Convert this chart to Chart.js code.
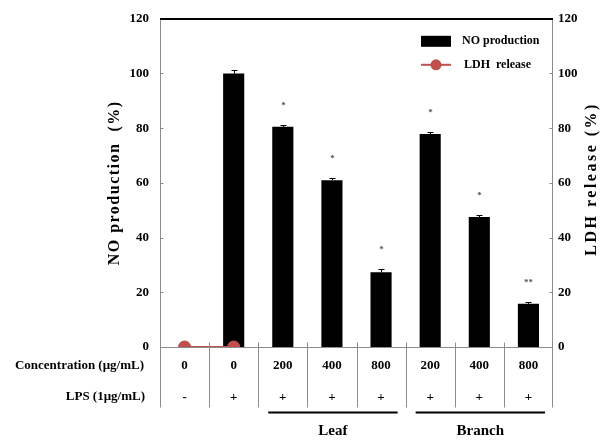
<!DOCTYPE html>
<html lang="en">
<head>
<meta charset="UTF-8">
<title>NO production and LDH release</title>
<script src="https://cdn.jsdelivr.net/npm/chart.js@4.4.0/dist/chart.umd.min.js"></script>
<style>
  body { margin: 0; background: #fff; }
  #wrap { width: 603px; height: 441px; }
</style>
</head>
<body>
<div id="wrap"><canvas id="chart" width="603" height="441"></canvas></div>
<script>
// data
const categories = ['0', '0', '200', '400', '800', '200', '400', '800'];
const lpsLabels = ['-', '+', '+', '+', '+', '+', '+', '+'];
const noProduction = [null, 100, 80.5, 61, 27.3, 77.9, 47.5, 15.8];
const noError = [null, 1.3, 0.8, 0.8, 1.3, 0.8, 0.8, 0.8];
const significance = ['', '', '*', '*', '*', '*', '*', '**'];
const ldhRelease = [0, 0, null, null, null, null, null, null];
const groups = [
    { label: 'Leaf', from: 2, to: 4 },
    { label: 'Branch', from: 5, to: 7 }
];
const yTicks = [0, 20, 40, 60, 80, 100, 120];

const FONT = "'Liberation Serif', 'Times New Roman', serif";
const RED = '#c0504d';
const AXIS = '#8c8c8c';

const overlay = {
    id: 'overlay',
    afterDatasetsDraw(chart) {
        const { ctx, scales: { x, y } } = chart;
        ctx.save();
        ctx.strokeStyle = '#000';
        ctx.lineWidth = 1;
        noProduction.forEach((v, i) => {
            if (v == null) return;
            const cx = Math.round(x.getPixelForValue(i)) + 0.5;
            const top = Math.round(y.getPixelForValue(v + noError[i])) + 0.5;
            ctx.beginPath();
            ctx.moveTo(cx, y.getPixelForValue(v));
            ctx.lineTo(cx, top);
            ctx.moveTo(cx - 3, top);
            ctx.lineTo(cx + 3, top);
            ctx.stroke();
            if (significance[i]) {
                ctx.fillStyle = '#555';
                ctx.font = `bold 9px ${FONT}`;
                ctx.textAlign = 'center';
                ctx.textBaseline = 'middle';
                ctx.fillText(significance[i], cx, top - 20);
            }
        });
        ctx.restore();
    },
    afterDraw(chart) {
        const { ctx, scales: { x, y } } = chart;
        const left = Math.round(x.left) + 0.5;
        const right = Math.round(x.right) - 0.5;
        const top = Math.round(y.top);
        const bottom = Math.round(y.bottom) + 0.5;
        const tableBottom = bottom + 60;
        const half = (x.getPixelForValue(1) - x.getPixelForValue(0)) / 2;
        ctx.save();

        // frame
        ctx.strokeStyle = AXIS;
        ctx.lineWidth = 1;
        ctx.beginPath();
        ctx.moveTo(left, top); ctx.lineTo(left, tableBottom);
        ctx.moveTo(right, top); ctx.lineTo(right, tableBottom);
        ctx.moveTo(left, bottom); ctx.lineTo(right, bottom);
        for (let k = 1; k < categories.length; k++) {
            const bx = Math.round(x.getPixelForValue(k) - half) + 0.5;
            ctx.moveTo(bx, bottom - 5); ctx.lineTo(bx, tableBottom);
        }
        yTicks.forEach(v => {
            const ty = Math.round(y.getPixelForValue(v)) + 0.5;
            ctx.moveTo(left, ty); ctx.lineTo(left + 3, ty);
            ctx.moveTo(right, ty); ctx.lineTo(right - 3, ty);
        });
        ctx.stroke();
        ctx.strokeStyle = '#000';
        ctx.lineWidth = 2;
        ctx.beginPath();
        ctx.moveTo(left - 0.5, top); ctx.lineTo(right + 0.5, top);
        ctx.stroke();

        // table under the axis
        ctx.fillStyle = '#000';
        ctx.font = `bold 13px ${FONT}`;
        ctx.textBaseline = 'middle';
        ctx.textAlign = 'right';
        ctx.fillText('Concentration (\u03bcg/mL)', x.left - 16, bottom + 18);
        ctx.fillText('LPS (1\u03bcg/mL)', x.left - 15, bottom + 49);
        ctx.textAlign = 'center';
        categories.forEach((c, i) => {
            const cx = x.getPixelForValue(i);
            ctx.fillText(c, cx, bottom + 18);
            ctx.fillText(lpsLabels[i], cx, bottom + 50);
        });

        // group brackets
        groups.forEach(g => {
            const x0 = x.getPixelForValue(g.from) - half + 10;
            const x1 = x.getPixelForValue(g.to) + half - 8;
            ctx.lineWidth = 2;
            ctx.beginPath();
            ctx.moveTo(x0, bottom + 65);
            ctx.lineTo(x1, bottom + 65);
            ctx.stroke();
            ctx.font = `bold 15px ${FONT}`;
            ctx.fillText(g.label, (x0 + x1) / 2, bottom + 84);
        });

        // legend
        const lx = x.right - 132;
        const ly = y.top + 17;
        ctx.fillStyle = '#000';
        ctx.fillRect(lx, ly, 30, 11);
        ctx.strokeStyle = RED;
        ctx.lineWidth = 2;
        ctx.beginPath();
        ctx.moveTo(lx, ly + 29); ctx.lineTo(lx + 30, ly + 29);
        ctx.stroke();
        ctx.fillStyle = RED;
        ctx.beginPath();
        ctx.arc(lx + 15, ly + 29, 5.5, 0, Math.PI * 2);
        ctx.fill();
        ctx.fillStyle = '#000';
        ctx.font = `bold 12px ${FONT}`;
        ctx.textAlign = 'left';
        ctx.fillText('NO production', lx + 41, ly + 5);
        ctx.fillText('LDH  release', lx + 43, ly + 29);

        // axis titles, both read bottom to top
        ctx.font = `bold 16px ${FONT}`;
        ctx.textAlign = 'center';
        ctx.letterSpacing = '1.5px';
        ctx.save();
        ctx.translate(115, (y.top + y.bottom) / 2);
        ctx.rotate(-Math.PI / 2);
        ctx.fillText('NO production  (%)', 0, 0);
        ctx.restore();
        ctx.letterSpacing = '2.5px';
        ctx.save();
        ctx.translate(592, (y.top + y.bottom) / 2 - 4);
        ctx.rotate(-Math.PI / 2);
        ctx.fillText('LDH release (%)', 0, 0);
        ctx.restore();

        ctx.restore();
    }
};

const tickFont = { family: FONT, size: 13, weight: 'bold' };

new Chart(document.getElementById('chart'), {
    type: 'bar',
    data: {
        labels: categories,
        datasets: [{
            type: 'line',
            label: 'LDH release',
            data: ldhRelease,
            yAxisID: 'y1',
            borderColor: RED,
            backgroundColor: RED,
            borderWidth: 2,
            pointRadius: 5.5,
            pointHoverRadius: 5.5,
            order: 1
        }, {
            type: 'bar',
            label: 'NO production',
            data: noProduction,
            yAxisID: 'y',
            backgroundColor: '#000',
            barPercentage: 0.43,
            categoryPercentage: 1,
            order: 2
        }]
    },
    options: {
        responsive: false,
        animation: false,
        layout: { padding: { top: 16, left: 102, right: 0, bottom: 0 } },
        plugins: {
            legend: { display: false },
            tooltip: { enabled: false }
        },
        scales: {
            x: {
                grid: { display: false },
                border: { display: false },
                ticks: { display: false },
                afterFit: s => { s.height = 94; }
            },
            y: {
                position: 'left',
                min: 0,
                max: 120,
                afterBuildTicks: s => { s.ticks = yTicks.map(v => ({ value: v })); },
                grid: { display: false, drawTicks: false },
                border: { display: false },
                ticks: { padding: 11, color: '#000', font: tickFont },
                afterFit: s => { s.width = 58; }
            },
            y1: {
                position: 'right',
                min: 0,
                max: 120,
                afterBuildTicks: s => { s.ticks = yTicks.map(v => ({ value: v })); },
                grid: { display: false, drawTicks: false },
                border: { display: false },
                ticks: { padding: 5, color: '#000', font: tickFont },
                afterFit: s => { s.width = 50; }
            }
        }
    },
    plugins: [overlay]
});
</script>
</body>
</html>
